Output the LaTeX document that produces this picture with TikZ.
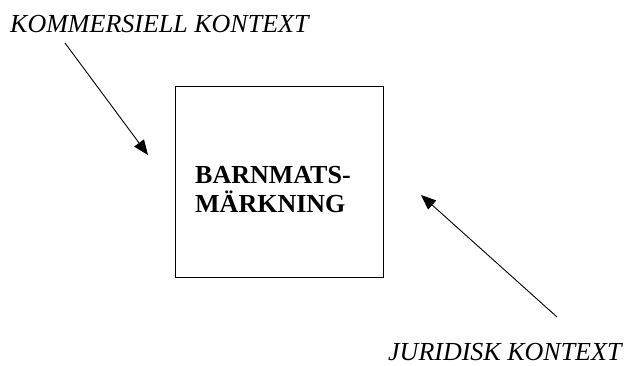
\documentclass[tikz,border=0pt]{standalone}
\usepackage{fontspec}
\setmainfont{Liberation Serif}
\usetikzlibrary{arrows.meta}
\begin{document}
\begin{tikzpicture}[x=1pt,y=-1pt,
  ctx/.style={inner sep=0pt,anchor=base west,font=\fontsize{26}{29}\selectfont\itshape},
  boxst/.style={draw,line width=1pt,inner sep=0pt},
  lblst/.style={inner sep=0pt,anchor=base west,align=left,font=\fontsize{26}{29}\selectfont\bfseries},
  arr/.style={line width=0.9pt,-{Triangle[length=15pt,width=12pt]}}]
\useasboundingbox (0,0) rectangle (625,365);
\node[ctx] (kom) at (10,32) {KOMMERSIELL KONTEXT};
\node[ctx] (jur) at (388,360) {JURIDISK KONTEXT};
\node[boxst,minimum width=208pt,minimum height=191pt] (box) at (279,181.5) {};
\node[lblst] (lbl) at (195,212) {BARNMATS-\\MÄRKNING};
\coordinate (a1s) at (65,43);
\coordinate (a1e) at (148,155);
\coordinate (a2s) at (557,317);
\coordinate (a2e) at (421,195);
\draw[arr] (a1s) -- (a1e);
\draw[arr] (a2s) -- (a2e);
\end{tikzpicture}
\end{document}
